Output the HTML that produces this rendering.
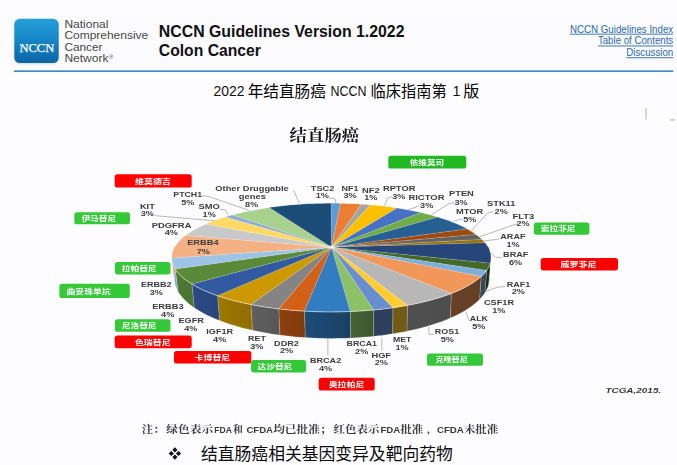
<!DOCTYPE html>
<html><head><meta charset="utf-8"><title>NCCN Colon Cancer</title>
<style>html,body{margin:0;padding:0;background:#fdfdff;overflow:hidden}body{width:677px;height:465px;font-family:"Liberation Sans",sans-serif}</style>
</head><body><svg width="677" height="465" viewBox="0 0 677 465" style="display:block"><rect x="9" y="16" width="668" height="58" fill="#fbfbfd"/>
<defs><linearGradient id="lg" x1="0" y1="0" x2="0" y2="1"><stop offset="0" stop-color="#23a0da"/><stop offset="0.45" stop-color="#1787c7"/><stop offset="1" stop-color="#0b65a6"/></linearGradient></defs>
<defs><filter id="sh" x="-20%" y="-20%" width="140%" height="140%"><feGaussianBlur stdDeviation="1.1"/></filter></defs><rect x="14.8" y="20.2" width="43.4" height="43.6" rx="5.5" fill="#7a8894" opacity="0.35" filter="url(#sh)"/>
<rect x="14.3" y="18.8" width="44.4" height="44.2" rx="5.5" fill="url(#lg)"/>
<text x="36.8" y="51.9" font-family="Liberation Serif" font-size="12.6" fill="#fff" stroke="#fff" stroke-width="0.25" text-anchor="middle" textLength="34.8" lengthAdjust="spacingAndGlyphs">NCCN</text>
<text x="64.4" y="27.7" font-family="Liberation Sans" font-size="10.4" fill="#484848" textLength="44.0" lengthAdjust="spacingAndGlyphs">National</text>
<text x="64.4" y="39.2" font-family="Liberation Sans" font-size="10.4" fill="#484848" textLength="83.8" lengthAdjust="spacingAndGlyphs">Comprehensive</text>
<text x="64.4" y="50.8" font-family="Liberation Sans" font-size="10.4" fill="#484848" textLength="38.0" lengthAdjust="spacingAndGlyphs">Cancer</text>
<text x="64.4" y="62.4" font-family="Liberation Sans" font-size="10.4" fill="#484848" textLength="44.0" lengthAdjust="spacingAndGlyphs">Network</text>
<text x="109.3" y="58.8" font-family="Liberation Sans" font-size="5.6" fill="#484848">®</text>
<text x="158.8" y="37.1" font-family="Liberation Sans" font-weight="bold" font-size="15.85" fill="#111" textLength="245.7" lengthAdjust="spacingAndGlyphs">NCCN Guidelines Version 1.2022</text>
<text x="158.8" y="55.9" font-family="Liberation Sans" font-weight="bold" font-size="15.85" fill="#111" textLength="102.1" lengthAdjust="spacingAndGlyphs">Colon Cancer</text>
<rect x="14" y="70.4" width="659.3" height="1.5" fill="#2e7fc0"/>
<text x="570.0" y="32.5" font-family="Liberation Sans" font-size="10.7" fill="#2a6ab0" textLength="103.2" lengthAdjust="spacingAndGlyphs">NCCN Guidelines Index</text>
<rect x="570.0" y="33.7" width="103.2" height="0.9" fill="#2a6ab0"/>
<text x="597.9" y="44.3" font-family="Liberation Sans" font-size="10.7" fill="#2a6ab0" textLength="75.3" lengthAdjust="spacingAndGlyphs">Table of Contents</text>
<rect x="597.9" y="45.5" width="75.3" height="0.9" fill="#2a6ab0"/>
<text x="626.3" y="56.1" font-family="Liberation Sans" font-size="10.7" fill="#2a6ab0" textLength="46.9" lengthAdjust="spacingAndGlyphs">Discussion</text>
<rect x="626.3" y="57.3" width="46.9" height="0.9" fill="#2a6ab0"/>
<text x="213.4" y="96.3" font-family="Liberation Sans" font-size="14.4" fill="#111" textLength="31" lengthAdjust="spacingAndGlyphs">2022</text>
<text x="247.7" y="97.2" font-family="'Liberation Sans','Noto Sans CJK SC',sans-serif" font-size="16" fill="#000" textLength="78.2" lengthAdjust="spacingAndGlyphs">年结直肠癌</text>
<text x="330.6" y="96.3" font-family="Liberation Sans" font-size="14.4" fill="#111" textLength="36" lengthAdjust="spacingAndGlyphs">NCCN</text>
<text x="370.6" y="97.2" font-family="'Liberation Sans','Noto Sans CJK SC',sans-serif" font-size="16" fill="#000" textLength="76" lengthAdjust="spacingAndGlyphs">临床指南第</text>
<text x="452.6" y="96.3" font-family="Liberation Sans" font-size="14.4" fill="#111">1</text>
<text x="463.3" y="97.2" font-family="'Liberation Sans','Noto Sans CJK SC',sans-serif" font-size="16" fill="#000">版</text>
<rect x="645.1" y="108" width="1.8" height="11.5" fill="#d2d2d6"/>
<rect x="669.9" y="118.8" width="5.2" height="2" fill="#d2d2d2"/>
<defs><filter id="bl" x="-2%" y="-2%" width="104%" height="104%"><feGaussianBlur stdDeviation="0.45"/></filter></defs><g filter="url(#bl)">
<text x="289.6" y="140.6" font-family="'Liberation Serif','Noto Serif CJK SC',serif" font-weight="bold" font-size="15.5" fill="#151515" textLength="69.6" lengthAdjust="spacingAndGlyphs">结直肠癌</text>
<defs><linearGradient id="sg0" gradientUnits="userSpaceOnUse" x1="487.6" y1="0" x2="490.2" y2="0"><stop offset="0" stop-color="#0f1b30"/><stop offset="1" stop-color="#0f1b30"/></linearGradient><linearGradient id="sg1" gradientUnits="userSpaceOnUse" x1="490.2" y1="0" x2="486.6" y2="0"><stop offset="0" stop-color="#1b2a11"/><stop offset="1" stop-color="#1b2a11"/></linearGradient><linearGradient id="sg2" gradientUnits="userSpaceOnUse" x1="486.6" y1="0" x2="481.1" y2="0"><stop offset="0" stop-color="#32475a"/><stop offset="1" stop-color="#33485b"/></linearGradient><linearGradient id="sg3" gradientUnits="userSpaceOnUse" x1="481.1" y1="0" x2="451.4" y2="0"><stop offset="0" stop-color="#643e25"/><stop offset="1" stop-color="#674126"/></linearGradient><linearGradient id="sg4" gradientUnits="userSpaceOnUse" x1="451.4" y1="0" x2="407.5" y2="0"><stop offset="0" stop-color="#4e4e4e"/><stop offset="1" stop-color="#505050"/></linearGradient><linearGradient id="sg5" gradientUnits="userSpaceOnUse" x1="407.5" y1="0" x2="392.9" y2="0"><stop offset="0" stop-color="#705a16"/><stop offset="1" stop-color="#715b16"/></linearGradient><linearGradient id="sg6" gradientUnits="userSpaceOnUse" x1="392.9" y1="0" x2="373.6" y2="0"><stop offset="0" stop-color="#2e3f5c"/><stop offset="1" stop-color="#2f3f5d"/></linearGradient><linearGradient id="sg7" gradientUnits="userSpaceOnUse" x1="373.6" y1="0" x2="350.3" y2="0"><stop offset="0" stop-color="#3e562e"/><stop offset="1" stop-color="#486335"/></linearGradient><linearGradient id="sg8" gradientUnits="userSpaceOnUse" x1="350.3" y1="0" x2="304.3" y2="0"><stop offset="0" stop-color="#194064"/><stop offset="1" stop-color="#1f4d78"/></linearGradient><linearGradient id="sg9" gradientUnits="userSpaceOnUse" x1="304.3" y1="0" x2="278.7" y2="0"><stop offset="0" stop-color="#823b0b"/><stop offset="1" stop-color="#8c400c"/></linearGradient><linearGradient id="sg10" gradientUnits="userSpaceOnUse" x1="278.7" y1="0" x2="250.9" y2="0"><stop offset="0" stop-color="#585858"/><stop offset="1" stop-color="#5e5e5e"/></linearGradient><linearGradient id="sg11" gradientUnits="userSpaceOnUse" x1="250.9" y1="0" x2="217.5" y2="0"><stop offset="0" stop-color="#916d00"/><stop offset="1" stop-color="#9f7800"/></linearGradient><linearGradient id="sg12" gradientUnits="userSpaceOnUse" x1="217.5" y1="0" x2="191.9" y2="0"><stop offset="0" stop-color="#27467d"/><stop offset="1" stop-color="#2b4b87"/></linearGradient><linearGradient id="sg13" gradientUnits="userSpaceOnUse" x1="191.9" y1="0" x2="175.3" y2="0"><stop offset="0" stop-color="#4b7430"/><stop offset="1" stop-color="#4f7932"/></linearGradient><linearGradient id="sg14" gradientUnits="userSpaceOnUse" x1="175.3" y1="0" x2="171.7" y2="0"><stop offset="0" stop-color="#8aaccb"/><stop offset="1" stop-color="#8badcc"/></linearGradient><linearGradient id="sg15" gradientUnits="userSpaceOnUse" x1="171.7" y1="0" x2="175.2" y2="0"><stop offset="0" stop-color="#d99d74"/><stop offset="1" stop-color="#da9e75"/></linearGradient></defs>
<g><path d="M487.61 246.31L488.49 247.83L489.25 249.35L489.87 250.88L490.37 252.41L490.74 253.95L490.98 255.49L491.09 257.04L491.07 258.58L490.93 260.13L490.65 261.67L490.25 263.21L488.56 284.77L488.96 283.08L489.23 281.38L489.37 279.68L489.39 277.98L489.28 276.28L489.04 274.58L488.68 272.89L488.19 271.20L487.57 269.51L486.83 267.84L485.96 266.17Z" fill="url(#sg0)" stroke="rgba(255,255,255,0.35)" stroke-width="0.5"/><path d="M490.25 263.21L489.74 264.66L489.13 266.11L488.39 267.55L487.55 268.99L486.59 270.42L484.95 292.71L485.90 291.14L486.73 289.56L487.45 287.97L488.06 286.37L488.56 284.77Z" fill="url(#sg1)" stroke="rgba(255,255,255,0.35)" stroke-width="0.5"/><path d="M486.59 270.42L485.42 271.95L484.12 273.48L482.69 274.99L481.13 276.49L479.56 299.40L481.10 297.75L482.51 296.09L483.80 294.41L484.95 292.71Z" fill="url(#sg2)" stroke="rgba(255,255,255,0.35)" stroke-width="0.5"/><path d="M481.13 276.49L479.50 277.91L477.77 279.32L475.91 280.71L473.94 282.08L471.86 283.44L469.67 284.77L467.37 286.08L464.96 287.37L462.44 288.64L459.82 289.88L457.10 291.09L454.29 292.28L451.37 293.44L450.22 318.07L453.09 316.79L455.87 315.48L458.56 314.15L461.14 312.78L463.62 311.39L465.99 309.97L468.26 308.52L470.43 307.06L472.48 305.56L474.42 304.05L476.25 302.52L477.96 300.97L479.56 299.40Z" fill="url(#sg3)" stroke="rgba(255,255,255,0.35)" stroke-width="0.5"/><path d="M451.37 293.44L448.21 294.63L444.96 295.78L441.60 296.90L438.15 297.99L434.61 299.04L430.98 300.05L427.26 301.03L423.46 301.97L419.58 302.87L415.62 303.74L411.59 304.56L407.49 305.34L406.94 331.18L410.98 330.32L414.96 329.41L418.86 328.46L422.69 327.46L426.44 326.43L430.11 325.35L433.69 324.23L437.18 323.08L440.58 321.88L443.89 320.65L447.10 319.38L450.22 318.07Z" fill="url(#sg4)" stroke="rgba(255,255,255,0.35)" stroke-width="0.5"/><path d="M407.49 305.34L403.90 305.98L400.27 306.59L396.59 307.17L392.87 307.72L392.53 333.79L396.19 333.19L399.82 332.55L403.40 331.88L406.94 331.18Z" fill="url(#sg5)" stroke="rgba(255,255,255,0.35)" stroke-width="0.5"/><path d="M392.87 307.72L389.10 308.23L385.28 308.72L381.43 309.17L377.55 309.58L373.63 309.97L373.55 336.27L377.41 335.85L381.24 335.39L385.04 334.89L388.80 334.36L392.53 333.79Z" fill="url(#sg6)" stroke="rgba(255,255,255,0.35)" stroke-width="0.5"/><path d="M373.63 309.97L369.02 310.37L364.37 310.73L359.70 311.04L354.99 311.30L350.27 311.52L350.51 337.98L355.17 337.74L359.81 337.45L364.42 337.11L369.00 336.72L373.55 336.27Z" fill="url(#sg7)" stroke="rgba(255,255,255,0.35)" stroke-width="0.5"/><path d="M350.27 311.52L345.69 311.68L341.09 311.80L336.48 311.87L331.88 311.90L327.27 311.88L322.66 311.82L318.06 311.71L313.47 311.56L308.90 311.36L304.35 311.12L305.22 337.54L309.71 337.80L314.22 338.02L318.74 338.19L323.28 338.31L327.82 338.38L332.37 338.40L336.91 338.37L341.46 338.29L345.99 338.16L350.51 337.98Z" fill="url(#sg8)" stroke="rgba(255,255,255,0.35)" stroke-width="0.5"/><path d="M304.35 311.12L299.99 310.84L295.67 310.52L291.37 310.17L287.10 309.77L282.86 309.33L278.67 308.85L279.89 335.05L284.03 335.57L288.21 336.05L292.42 336.49L296.66 336.88L300.93 337.23L305.22 337.54Z" fill="url(#sg9)" stroke="rgba(255,255,255,0.35)" stroke-width="0.5"/><path d="M278.67 308.85L274.56 308.34L270.49 307.80L266.48 307.21L262.51 306.59L258.59 305.93L254.72 305.23L250.92 304.50L252.52 330.25L256.28 331.06L260.09 331.82L263.95 332.55L267.87 333.24L271.83 333.88L275.84 334.48L279.89 335.05Z" fill="url(#sg10)" stroke="rgba(255,255,255,0.35)" stroke-width="0.5"/><path d="M250.92 304.50L246.88 303.67L242.91 302.80L239.02 301.89L235.22 300.95L231.50 299.96L227.86 298.94L224.31 297.88L220.86 296.79L217.51 295.66L219.58 320.52L222.89 321.76L226.29 322.96L229.79 324.13L233.37 325.25L237.04 326.34L240.80 327.38L244.63 328.38L248.54 329.34L252.52 330.25Z" fill="url(#sg11)" stroke="rgba(255,255,255,0.35)" stroke-width="0.5"/><path d="M217.51 295.66L214.21 294.49L211.03 293.28L207.95 292.05L204.98 290.78L202.12 289.48L199.38 288.15L196.75 286.80L194.25 285.42L191.87 284.01L194.29 307.69L196.64 309.23L199.11 310.75L201.69 312.25L204.40 313.71L207.22 315.14L210.15 316.53L213.18 317.90L216.33 319.23L219.58 320.52Z" fill="url(#sg12)" stroke="rgba(255,255,255,0.35)" stroke-width="0.5"/><path d="M191.87 284.01L189.63 282.60L187.51 281.16L185.52 279.70L183.66 278.22L181.93 276.72L180.33 275.21L178.86 273.68L177.53 272.14L176.33 270.58L175.27 269.02L177.92 291.17L178.97 292.90L180.15 294.61L181.47 296.31L182.91 297.99L184.49 299.66L186.20 301.31L188.03 302.94L189.99 304.54L192.08 306.13L194.29 307.69Z" fill="url(#sg13)" stroke="rgba(255,255,255,0.35)" stroke-width="0.5"/><path d="M175.27 269.02L174.35 267.45L173.56 265.87L172.91 264.28L172.40 262.69L172.03 261.10L171.80 259.50L171.70 257.90L174.40 278.93L174.50 280.69L174.73 282.45L175.09 284.21L175.60 285.96L176.24 287.71L177.01 289.45L177.92 291.17Z" fill="url(#sg14)" stroke="rgba(255,255,255,0.35)" stroke-width="0.5"/><path d="M171.70 257.90L171.74 256.44L171.89 254.98L172.15 253.53L172.53 252.07L173.02 250.62L173.63 249.18L174.35 247.74L175.19 246.31L177.84 266.17L177.02 267.74L176.31 269.33L175.71 270.92L175.22 272.51L174.84 274.11L174.58 275.72L174.44 277.32L174.40 278.93Z" fill="url(#sg15)" stroke="rgba(255,255,255,0.35)" stroke-width="0.5"/></g>
<g stroke="rgba(255,255,255,0.35)" stroke-width="0.4" stroke-linejoin="round"><path d="M331.50 247.20L331.00 203.30L334.20 203.31L337.39 203.34L340.58 203.39Z" fill="#5B9BD5"/><path d="M331.50 247.20L340.58 203.39L344.76 203.49L348.93 203.63L353.09 203.80L357.23 204.01L361.35 204.26Z" fill="#ED7D31"/><path d="M331.50 247.20L361.35 204.26L365.83 204.58L370.28 204.93Z" fill="#A5A5A5"/><path d="M331.50 247.20L370.28 204.93L374.85 205.35L379.38 205.81L383.88 206.32L388.32 206.87L392.72 207.46L397.06 208.10Z" fill="#FFC000"/><path d="M331.50 247.20L397.06 208.10L401.18 208.76L405.24 209.45L409.25 210.19L413.18 210.96L417.06 211.77L420.86 212.62Z" fill="#4472C4"/><path d="M331.50 247.20L420.86 212.62L424.38 213.45L427.83 214.32L431.21 215.21L434.51 216.14L437.75 217.09Z" fill="#70AD47"/><path d="M331.50 247.20L437.75 217.09L441.11 218.14L444.38 219.22L447.56 220.34L450.65 221.48L453.63 222.65L456.52 223.86L459.31 225.09L461.99 226.34L464.56 227.62L467.03 228.93Z" fill="#255E91"/><path d="M331.50 247.20L467.03 228.93L469.41 230.28L471.67 231.64L473.82 233.03L475.85 234.44Z" fill="#9E480E"/><path d="M331.50 247.20L475.85 234.44L477.53 235.69L479.11 236.96L480.60 238.24L482.00 239.53Z" fill="#636363"/><path d="M331.50 247.20L482.00 239.53L483.11 240.63L484.14 241.75L485.11 242.87Z" fill="#997300"/><path d="M331.50 247.20L485.11 242.87L486.31 244.40L487.37 245.93L488.30 247.48L489.10 249.04L489.77 250.60L490.30 252.17L490.70 253.74L490.96 255.32L491.09 256.90L491.08 258.48L490.94 260.06L490.66 261.63L490.25 263.21Z" fill="#264478"/><path d="M331.50 247.20L490.25 263.21L489.74 264.66L489.13 266.11L488.39 267.55L487.55 268.99L486.59 270.42Z" fill="#43682B"/><path d="M331.50 247.20L486.59 270.42L485.42 271.95L484.12 273.48L482.69 274.99L481.13 276.49Z" fill="#7CAFDD"/><path d="M331.50 247.20L481.13 276.49L479.50 277.91L477.77 279.32L475.91 280.71L473.94 282.08L471.86 283.44L469.67 284.77L467.37 286.08L464.96 287.37L462.44 288.64L459.82 289.88L457.10 291.09L454.29 292.28L451.37 293.44Z" fill="#F1975A"/><path d="M331.50 247.20L451.37 293.44L448.21 294.63L444.96 295.78L441.60 296.90L438.15 297.99L434.61 299.04L430.98 300.05L427.26 301.03L423.46 301.97L419.58 302.87L415.62 303.74L411.59 304.56L407.49 305.34Z" fill="#B7B7B7"/><path d="M331.50 247.20L407.49 305.34L403.90 305.98L400.27 306.59L396.59 307.17L392.87 307.72Z" fill="#FFCD33"/><path d="M331.50 247.20L392.87 307.72L389.10 308.23L385.28 308.72L381.43 309.17L377.55 309.58L373.63 309.97Z" fill="#698ED0"/><path d="M331.50 247.20L373.63 309.97L369.02 310.37L364.37 310.73L359.70 311.04L354.99 311.30L350.27 311.52Z" fill="#8CC168"/><path d="M331.50 247.20L350.27 311.52L345.69 311.68L341.09 311.80L336.48 311.87L331.88 311.90L327.27 311.88L322.66 311.82L318.06 311.71L313.47 311.56L308.90 311.36L304.35 311.12Z" fill="#327DC2"/><path d="M331.50 247.20L304.35 311.12L299.99 310.84L295.67 310.52L291.37 310.17L287.10 309.77L282.86 309.33L278.67 308.85Z" fill="#D26012"/><path d="M331.50 247.20L278.67 308.85L274.56 308.34L270.49 307.80L266.48 307.21L262.51 306.59L258.59 305.93L254.72 305.23L250.92 304.50Z" fill="#848484"/><path d="M331.50 247.20L250.92 304.50L246.88 303.67L242.91 302.80L239.02 301.89L235.22 300.95L231.50 299.96L227.86 298.94L224.31 297.88L220.86 296.79L217.51 295.66Z" fill="#CC9A00"/><path d="M331.50 247.20L217.51 295.66L214.21 294.49L211.03 293.28L207.95 292.05L204.98 290.78L202.12 289.48L199.38 288.15L196.75 286.80L194.25 285.42L191.87 284.01Z" fill="#335AA1"/><path d="M331.50 247.20L191.87 284.01L189.63 282.60L187.51 281.16L185.52 279.70L183.66 278.22L181.93 276.72L180.33 275.21L178.86 273.68L177.53 272.14L176.33 270.58L175.27 269.02Z" fill="#5A8A39"/><path d="M331.50 247.20L175.27 269.02L174.35 267.45L173.56 265.87L172.91 264.28L172.40 262.69L172.03 261.10L171.80 259.50L171.70 257.90Z" fill="#9DC3E6"/><path d="M331.50 247.20L171.70 257.90L171.74 256.36L171.91 254.82L172.21 253.28L172.63 251.75L173.18 250.22L173.86 248.69L174.67 247.18L175.60 245.67L176.66 244.17L177.84 242.68L179.15 241.21L180.58 239.74L182.13 238.30L183.80 236.86L185.59 235.45Z" fill="#F4B183"/><path d="M331.50 247.20L185.59 235.45L187.44 234.10L189.39 232.76L191.44 231.45L193.60 230.15L195.87 228.88L198.23 227.63L200.70 226.40L203.27 225.19L205.93 224.01Z" fill="#C9C9C9"/><path d="M331.50 247.20L205.93 224.01L208.92 222.76L212.01 221.54L215.21 220.35L218.51 219.19L221.92 218.07L225.41 216.98Z" fill="#FFD966"/><path d="M331.50 247.20L225.41 216.98L227.83 216.27L230.28 215.57L232.78 214.89Z" fill="#8FAADC"/><path d="M331.50 247.20L232.78 214.89L236.52 213.92L240.35 212.99L244.26 212.10L248.24 211.24L252.30 210.43L256.42 209.66L260.61 208.93L264.86 208.24L269.17 207.59Z" fill="#A9D18E"/><path d="M331.50 247.20L269.17 207.59L273.37 207.01L277.62 206.47L281.91 205.97L286.25 205.52L290.62 205.10L295.02 204.73L299.45 204.40L303.91 204.11L308.39 203.87L312.89 203.67L317.40 203.51L321.93 203.40L326.46 203.33L331.00 203.30Z" fill="#1F4E79"/></g>
<path d="M489.55 250.04L490.12 251.59L490.56 253.15L490.87 254.70L491.05 256.26L491.10 257.82L491.01 259.38L490.80 260.94L490.45 262.50L489.97 264.05L489.36 265.60L488.62 267.14L487.75 268.67L486.74 270.19L485.62 271.71L484.36 273.21L482.98 274.70L481.47 276.17L479.84 277.63L478.08 279.07L476.21 280.50L474.21 281.90L472.10 283.29L469.87 284.65L467.52 286.00L465.07 287.31L462.50 288.61L459.82 289.88L457.04 291.12L454.16 292.33L451.17 293.52L448.09 294.67L444.90 295.80L441.63 296.89L438.26 297.95L434.80 298.98L431.26 299.97L427.64 300.93L423.94 301.85L420.16 302.74L416.31 303.59L412.38 304.40L408.39 305.17L404.34 305.91L400.23 306.60L396.06 307.25L391.83 307.86L387.56 308.43L383.24 308.96L378.88 309.45L374.47 309.89L370.03 310.29L365.57 310.64L361.07 310.95L356.54 311.22L352.00 311.45L347.44 311.63L342.87 311.76L338.28 311.85L333.70 311.89L329.10 311.89L324.52 311.85L319.93 311.76L315.36 311.63L310.80 311.45L306.26 311.22L301.73 310.95L297.23 310.64L292.77 310.29L288.33 309.89L283.92 309.45L279.56 308.96L275.24 308.43L270.97 307.86L266.74 307.25L262.57 306.60L258.46 305.91L254.41 305.17L250.42 304.40L246.49 303.59L242.64 302.74L238.86 301.85L235.16 300.93L231.54 299.97L228.00 298.98L224.54 297.95L221.17 296.89L217.90 295.80L214.71 294.67L211.63 293.52L208.64 292.33L205.76 291.12L202.98 289.88L200.30 288.61L197.73 287.31L195.28 286.00L192.93 284.65L190.70 283.29L188.59 281.90L186.59 280.50L184.72 279.07L182.96 277.63L181.33 276.17L179.82 274.70L178.44 273.21L177.18 271.71L176.06 270.19L175.05 268.67L174.18 267.14L173.44 265.60L172.83 264.05L172.35 262.50L172.00 260.94L171.79 259.38L171.70 257.82L171.75 256.26L171.93 254.70L172.24 253.15L172.68 251.59L173.25 250.04" fill="none" stroke="rgba(255,255,255,0.55)" stroke-width="0.7"/>
<defs><radialGradient id="cg"><stop offset="0" stop-color="#fff" stop-opacity="0.95"/><stop offset="0.4" stop-color="#fff" stop-opacity="0.55"/><stop offset="1" stop-color="#fff" stop-opacity="0"/></radialGradient></defs><ellipse cx="331.5" cy="247.2" rx="4.2" ry="2.6" fill="url(#cg)"/>
<path d="M293.5 190.1L299.5 203.3" fill="none" stroke="#9a9a9a" stroke-width="0.7"/>
<path d="M329.0 197.9L334.9 198.8L336.1 203.3" fill="none" stroke="#9a9a9a" stroke-width="0.7"/>
<path d="M392.1 196.5L387.4 198.4L384.5 205.8" fill="none" stroke="#9a9a9a" stroke-width="0.7"/>
<path d="M419.5 205.5L414.1 207.8L407.0 210.0" fill="none" stroke="#9a9a9a" stroke-width="0.7"/>
<path d="M454.5 202.6L448.5 203.8L430.8 215.2" fill="none" stroke="#9a9a9a" stroke-width="0.7"/>
<path d="M462.7 219.2L456.0 220.3L452.1 222.9" fill="none" stroke="#9a9a9a" stroke-width="0.7"/>
<path d="M493.6 211.8L487.7 213.0L471.2 230.9" fill="none" stroke="#9a9a9a" stroke-width="0.7"/>
<path d="M518.5 223.6L512.0 225.5L479.5 236.9" fill="none" stroke="#9a9a9a" stroke-width="0.7"/>
<path d="M499.5 239.0L483.3 241.0" fill="none" stroke="#9a9a9a" stroke-width="0.7"/>
<path d="M501.9 257.4L495.5 257.4L490.8 252.5" fill="none" stroke="#9a9a9a" stroke-width="0.7"/>
<path d="M505.3 286.5L498.2 287.0L485.2 291.7" fill="none" stroke="#9a9a9a" stroke-width="0.7"/>
<path d="M469.3 320.8L465.6 311.4" fill="none" stroke="#9a9a9a" stroke-width="0.7"/>
<path d="M433.9 334.3L429.2 334.3L428.5 326.7" fill="none" stroke="#9a9a9a" stroke-width="0.7"/>
<path d="M381.8 337.5L381.8 350.6" fill="none" stroke="#9a9a9a" stroke-width="0.7"/>
<path d="M327.9 338.4L327.9 355.4" fill="none" stroke="#9a9a9a" stroke-width="0.7"/>
<path d="M202.1 195.8L208.0 196.3L249.4 210.5" fill="none" stroke="#9a9a9a" stroke-width="0.7"/>
<path d="M219.8 209.3L225.7 210.0L228.1 215.4" fill="none" stroke="#9a9a9a" stroke-width="0.7"/>
<path d="M154.8 215.6L214.5 220.8" fill="none" stroke="#9a9a9a" stroke-width="0.7"/>
<g font-family="Liberation Sans" font-weight="bold" font-size="7.0" fill="#3d3d3d"><text x="310.8" y="190.6" textLength="23.6" lengthAdjust="spacingAndGlyphs">TSC2</text><text x="315.8" y="198.4" textLength="13.2" lengthAdjust="spacingAndGlyphs">1%</text><text x="341.5" y="190.6" textLength="17.0" lengthAdjust="spacingAndGlyphs">NF1</text><text x="343.4" y="198.4" textLength="13.2" lengthAdjust="spacingAndGlyphs">3%</text><text x="362.1" y="192.5" textLength="17.7" lengthAdjust="spacingAndGlyphs">NF2</text><text x="364.2" y="200.3" textLength="13.2" lengthAdjust="spacingAndGlyphs">1%</text><text x="382.9" y="190.7" textLength="32.5" lengthAdjust="spacingAndGlyphs">RPTOR</text><text x="392.2" y="198.6" textLength="13.2" lengthAdjust="spacingAndGlyphs">3%</text><text x="408.4" y="199.6" textLength="36.2" lengthAdjust="spacingAndGlyphs">RICTOR</text><text x="420.1" y="208.0" textLength="13.2" lengthAdjust="spacingAndGlyphs">3%</text><text x="449.0" y="196.3" textLength="24.8" lengthAdjust="spacingAndGlyphs">PTEN</text><text x="454.5" y="204.5" textLength="13.2" lengthAdjust="spacingAndGlyphs">3%</text><text x="456.1" y="213.7" textLength="27.2" lengthAdjust="spacingAndGlyphs">MTOR</text><text x="463.2" y="222.0" textLength="13.2" lengthAdjust="spacingAndGlyphs">5%</text><text x="487.1" y="205.7" textLength="28.3" lengthAdjust="spacingAndGlyphs">STK11</text><text x="494.6" y="213.7" textLength="13.2" lengthAdjust="spacingAndGlyphs">2%</text><text x="512.4" y="218.7" textLength="21.9" lengthAdjust="spacingAndGlyphs">FLT3</text><text x="516.4" y="226.3" textLength="13.2" lengthAdjust="spacingAndGlyphs">2%</text><text x="500.3" y="239.0" textLength="25.2" lengthAdjust="spacingAndGlyphs">ARAF</text><text x="506.4" y="246.8" textLength="13.2" lengthAdjust="spacingAndGlyphs">1%</text><text x="503.1" y="257.4" textLength="25.3" lengthAdjust="spacingAndGlyphs">BRAF</text><text x="509.0" y="265.0" textLength="13.2" lengthAdjust="spacingAndGlyphs">6%</text><text x="506.8" y="286.5" textLength="23.4" lengthAdjust="spacingAndGlyphs">RAF1</text><text x="511.7" y="294.3" textLength="13.2" lengthAdjust="spacingAndGlyphs">2%</text><text x="484.0" y="305.0" textLength="30.0" lengthAdjust="spacingAndGlyphs">CSF1R</text><text x="492.3" y="313.3" textLength="13.2" lengthAdjust="spacingAndGlyphs">1%</text><text x="469.8" y="320.8" textLength="18.2" lengthAdjust="spacingAndGlyphs">ALK</text><text x="472.2" y="329.1" textLength="13.2" lengthAdjust="spacingAndGlyphs">5%</text><text x="434.8" y="334.3" textLength="24.4" lengthAdjust="spacingAndGlyphs">ROS1</text><text x="440.8" y="341.6" textLength="13.2" lengthAdjust="spacingAndGlyphs">5%</text><text x="393.0" y="342.1" textLength="18.4" lengthAdjust="spacingAndGlyphs">MET</text><text x="395.4" y="349.7" textLength="13.2" lengthAdjust="spacingAndGlyphs">1%</text><text x="371.5" y="358.0" textLength="19.5" lengthAdjust="spacingAndGlyphs">HGF</text><text x="374.7" y="364.8" textLength="13.2" lengthAdjust="spacingAndGlyphs">2%</text><text x="346.5" y="346.4" textLength="30.5" lengthAdjust="spacingAndGlyphs">BRCA1</text><text x="355.1" y="354.2" textLength="13.2" lengthAdjust="spacingAndGlyphs">2%</text><text x="310.0" y="362.9" textLength="31.2" lengthAdjust="spacingAndGlyphs">BRCA2</text><text x="319.0" y="370.7" textLength="13.2" lengthAdjust="spacingAndGlyphs">4%</text><text x="274.1" y="346.0" textLength="24.8" lengthAdjust="spacingAndGlyphs">DDR2</text><text x="279.9" y="353.4" textLength="13.2" lengthAdjust="spacingAndGlyphs">2%</text><text x="248.1" y="341.3" textLength="17.7" lengthAdjust="spacingAndGlyphs">RET</text><text x="250.2" y="349.1" textLength="13.2" lengthAdjust="spacingAndGlyphs">3%</text><text x="206.3" y="334.2" textLength="26.9" lengthAdjust="spacingAndGlyphs">IGF1R</text><text x="213.1" y="342.0" textLength="13.2" lengthAdjust="spacingAndGlyphs">4%</text><text x="178.4" y="323.1" textLength="25.5" lengthAdjust="spacingAndGlyphs">EGFR</text><text x="184.3" y="330.7" textLength="13.2" lengthAdjust="spacingAndGlyphs">4%</text><text x="152.2" y="308.9" textLength="31.4" lengthAdjust="spacingAndGlyphs">ERBB3</text><text x="161.1" y="316.7" textLength="13.2" lengthAdjust="spacingAndGlyphs">4%</text><text x="140.9" y="286.9" textLength="30.7" lengthAdjust="spacingAndGlyphs">ERBB2</text><text x="149.7" y="294.5" textLength="13.2" lengthAdjust="spacingAndGlyphs">3%</text><text x="187.2" y="245.4" textLength="31.4" lengthAdjust="spacingAndGlyphs">ERBB4</text><text x="196.7" y="253.5" textLength="13.2" lengthAdjust="spacingAndGlyphs">7%</text><text x="151.7" y="227.5" textLength="39.8" lengthAdjust="spacingAndGlyphs">PDGFRA</text><text x="164.8" y="235.3" textLength="13.2" lengthAdjust="spacingAndGlyphs">4%</text><text x="139.9" y="208.6" textLength="14.9" lengthAdjust="spacingAndGlyphs">KIT</text><text x="140.7" y="216.4" textLength="13.2" lengthAdjust="spacingAndGlyphs">3%</text><text x="198.5" y="209.3" textLength="21.3" lengthAdjust="spacingAndGlyphs">SMO</text><text x="202.6" y="217.1" textLength="13.2" lengthAdjust="spacingAndGlyphs">1%</text><text x="173.3" y="196.7" textLength="28.8" lengthAdjust="spacingAndGlyphs">PTCH1</text><text x="181.3" y="205.0" textLength="13.2" lengthAdjust="spacingAndGlyphs">5%</text><text x="215.3" y="190.9" textLength="73.4" lengthAdjust="spacingAndGlyphs">Other Druggable</text><text x="238.7" y="199.0" textLength="27.2" lengthAdjust="spacingAndGlyphs">genes</text><text x="245.1" y="206.7" textLength="13.2" lengthAdjust="spacingAndGlyphs">8%</text></g>
<rect x="388.3" y="155.8" width="78.0" height="12.8" rx="2.6" fill="#22b822"/>
<text x="409.7" y="164.8" font-family="'Liberation Sans','Noto Sans CJK SC',sans-serif" font-weight="bold" font-size="7" fill="#ffffff" textLength="34.4" lengthAdjust="spacingAndGlyphs">依维莫司</text>
<rect x="114.7" y="174.3" width="77.0" height="13.2" rx="2.6" fill="#ff0000"/>
<text x="135.1" y="183.5" font-family="'Liberation Sans','Noto Sans CJK SC',sans-serif" font-weight="bold" font-size="7" fill="#ffffff" textLength="35.7" lengthAdjust="spacingAndGlyphs">维莫德吉</text>
<rect x="74.3" y="212.3" width="55.7" height="12.0" rx="2.6" fill="#34c838"/>
<text x="81.4" y="220.9" font-family="'Liberation Sans','Noto Sans CJK SC',sans-serif" font-weight="bold" font-size="7" fill="#ffffff" textLength="34.8" lengthAdjust="spacingAndGlyphs">伊马替尼</text>
<rect x="114.9" y="262.1" width="55.6" height="12.3" rx="2.6" fill="#34c838"/>
<text x="121.7" y="270.85" font-family="'Liberation Sans','Noto Sans CJK SC',sans-serif" font-weight="bold" font-size="7" fill="#ffffff" textLength="34.9" lengthAdjust="spacingAndGlyphs">拉帕替尼</text>
<rect x="59.4" y="283.8" width="70.4" height="14.2" rx="2.6" fill="#34c838"/>
<text x="66.6" y="293.5" font-family="'Liberation Sans','Noto Sans CJK SC',sans-serif" font-weight="bold" font-size="7" fill="#ffffff" textLength="43.9" lengthAdjust="spacingAndGlyphs">曲妥珠单抗</text>
<rect x="114.9" y="319.3" width="55.6" height="12.5" rx="2.6" fill="#34c838"/>
<text x="121.7" y="328.15" font-family="'Liberation Sans','Noto Sans CJK SC',sans-serif" font-weight="bold" font-size="7" fill="#ffffff" textLength="34.9" lengthAdjust="spacingAndGlyphs">尼洛替尼</text>
<rect x="114.7" y="335.6" width="77.0" height="12.6" rx="2.6" fill="#ff0000"/>
<text x="134.9" y="344.5" font-family="'Liberation Sans','Noto Sans CJK SC',sans-serif" font-weight="bold" font-size="7" fill="#ffffff" textLength="35.8" lengthAdjust="spacingAndGlyphs">色瑞替尼</text>
<rect x="174.0" y="351.0" width="77.3" height="12.5" rx="2.6" fill="#ff0000"/>
<text x="194.6" y="359.85" font-family="'Liberation Sans','Noto Sans CJK SC',sans-serif" font-weight="bold" font-size="7" fill="#ffffff" textLength="35.7" lengthAdjust="spacingAndGlyphs">卡博替尼</text>
<rect x="251.1" y="360.1" width="55.1" height="12.3" rx="2.6" fill="#34c838"/>
<text x="257.6" y="368.85" font-family="'Liberation Sans','Noto Sans CJK SC',sans-serif" font-weight="bold" font-size="7" fill="#ffffff" textLength="34.7" lengthAdjust="spacingAndGlyphs">达沙替尼</text>
<rect x="318.7" y="377.8" width="56.0" height="12.8" rx="2.6" fill="#ff0000"/>
<text x="328.7" y="386.8" font-family="'Liberation Sans','Noto Sans CJK SC',sans-serif" font-weight="bold" font-size="7" fill="#ffffff" textLength="35.7" lengthAdjust="spacingAndGlyphs">奥拉帕尼</text>
<rect x="427.0" y="353.5" width="56.0" height="12.3" rx="2.6" fill="#34c838"/>
<text x="435.4" y="362.25" font-family="'Liberation Sans','Noto Sans CJK SC',sans-serif" font-weight="bold" font-size="7" fill="#ffffff" textLength="32.4" lengthAdjust="spacingAndGlyphs">克唑替尼</text>
<rect x="533.8" y="222.5" width="55.6" height="12.2" rx="2.6" fill="#34c838"/>
<text x="540.8" y="231.2" font-family="'Liberation Sans','Noto Sans CJK SC',sans-serif" font-weight="bold" font-size="7" fill="#ffffff" textLength="34.7" lengthAdjust="spacingAndGlyphs">索拉非尼</text>
<rect x="540.7" y="257.9" width="77.3" height="12.5" rx="2.6" fill="#ff0000"/>
<text x="560.4" y="266.75" font-family="'Liberation Sans','Noto Sans CJK SC',sans-serif" font-weight="bold" font-size="7" fill="#ffffff" textLength="36.3" lengthAdjust="spacingAndGlyphs">威罗非尼</text>
<text x="605.4" y="393.2" font-family="Liberation Sans" font-style="italic" font-weight="bold" font-size="7.3" fill="#3a3a3a" textLength="55.8" lengthAdjust="spacingAndGlyphs">TCGA,2015.</text>
<text x="141.8" y="433.0" font-family="'Liberation Serif','Noto Serif CJK SC',serif" font-weight="bold" font-size="9.8" fill="#3a3a3a" textLength="22.8" lengthAdjust="spacingAndGlyphs">注：</text>
<text x="166.3" y="433.0" font-family="'Liberation Serif','Noto Serif CJK SC',serif" font-weight="bold" font-size="9.8" fill="#3a3a3a" textLength="46.9" lengthAdjust="spacingAndGlyphs">绿色表示</text>
<text x="214.3" y="433.1" font-family="Liberation Sans" font-weight="bold" font-size="9.3" fill="#3a3a3a" textLength="17.6" lengthAdjust="spacingAndGlyphs">FDA</text>
<text x="232.9" y="433.0" font-family="'Liberation Serif','Noto Serif CJK SC',serif" font-weight="bold" font-size="9.8" fill="#3a3a3a">和</text>
<text x="246.4" y="433.1" font-family="Liberation Sans" font-weight="bold" font-size="9.3" fill="#3a3a3a" textLength="26.6" lengthAdjust="spacingAndGlyphs">CFDA</text>
<text x="273.2" y="433.0" font-family="'Liberation Serif','Noto Serif CJK SC',serif" font-weight="bold" font-size="9.8" fill="#3a3a3a" textLength="58.4" lengthAdjust="spacingAndGlyphs">均已批准；</text>
<text x="333.6" y="433.0" font-family="'Liberation Serif','Noto Serif CJK SC',serif" font-weight="bold" font-size="9.8" fill="#3a3a3a" textLength="45.8" lengthAdjust="spacingAndGlyphs">红色表示</text>
<text x="380.4" y="433.1" font-family="Liberation Sans" font-weight="bold" font-size="9.3" fill="#3a3a3a" textLength="19.8" lengthAdjust="spacingAndGlyphs">FDA</text>
<text x="400.4" y="433.0" font-family="'Liberation Serif','Noto Serif CJK SC',serif" font-weight="bold" font-size="9.8" fill="#3a3a3a" textLength="22.8" lengthAdjust="spacingAndGlyphs">批准</text>
<text x="426.9" y="433.0" font-family="'Liberation Serif','Noto Serif CJK SC',serif" font-weight="bold" font-size="9.8" fill="#3a3a3a">，</text>
<text x="436.9" y="433.1" font-family="Liberation Sans" font-weight="bold" font-size="9.3" fill="#3a3a3a" textLength="27.0" lengthAdjust="spacingAndGlyphs">CFDA</text>
<text x="463.9" y="433.0" font-family="'Liberation Serif','Noto Serif CJK SC',serif" font-weight="bold" font-size="9.8" fill="#3a3a3a" textLength="34.4" lengthAdjust="spacingAndGlyphs">未批准</text>
</g>
<path d="M174.9 447.3L177.5 449.9L174.9 452.5L172.3 449.9ZM174.9 454.5L177.5 457.1L174.9 459.7L172.3 457.1ZM171.3 450.9L173.9 453.5L171.3 456.1L168.7 453.5ZM178.5 450.9L181.1 453.5L178.5 456.1L175.9 453.5Z" fill="#111"/>
<text x="201" y="459.5" font-family="'Liberation Sans','Noto Sans CJK SC',sans-serif" font-size="17" fill="#0a0a0a" textLength="251.8" lengthAdjust="spacingAndGlyphs">结直肠癌相关基因变异及靶向药物</text></svg></body></html>
